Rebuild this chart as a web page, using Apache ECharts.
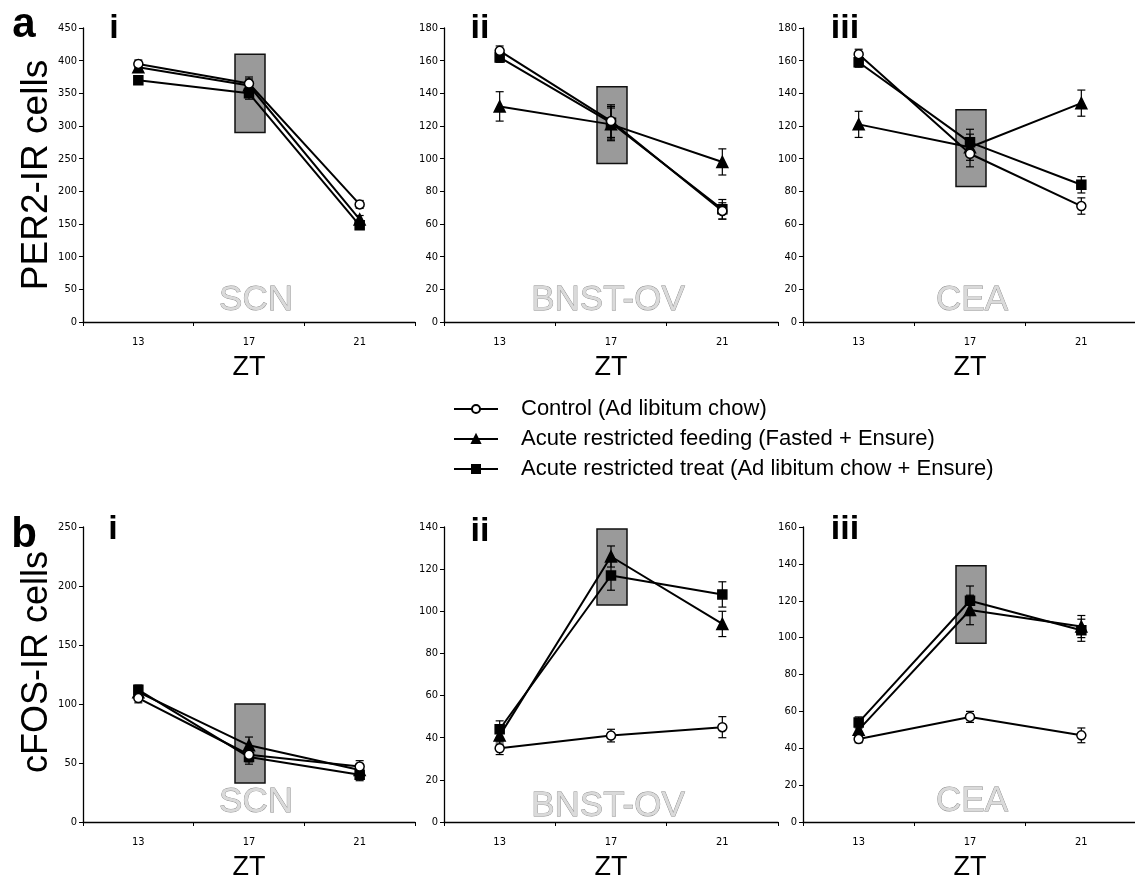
<!DOCTYPE html>
<html>
<head>
<meta charset="utf-8">
<script src="https://cdn.jsdelivr.net/npm/echarts@6/dist/echarts.min.js"></script>
<style>
  html, body { margin: 0; padding: 0; background: #fff; }
  #chart { width: 1135px; height: 880px; }
</style>
</head>
<body>
<div id="chart"></div>
<script>
// x categories (ZT)
var categories = ["13", "17", "21"];
var seriesNames = [
  "Control (Ad libitum chow)",
  "Acute restricted feeding (Fasted + Ensure)",
  "Acute restricted treat (Ad libitum chow + Ensure)"
];

// a: PER2-IR cells
var per2ScnControl = [395, 365, 180];
var per2ScnFeed = [390, 362, 157];
var per2ScnTreat = [370, 350, 148];
var per2ScnErr = [[6, 10, 6], [6, 10, 6], [5, 9, 5]];

var per2BnstControl = [166, 123, 68];
var per2BnstFeed = [132, 121, 98];
var per2BnstTreat = [162, 122, 69];
var per2BnstErr = [[3, 10, 5], [9, 10, 8], [3, 10, 6]];

var per2CeaControl = [164, 103, 71];
var per2CeaFeed = [121, 107, 134];
var per2CeaTreat = [159, 110, 84];
var per2CeaErr = [[3, 8, 5], [8, 8, 8], [3, 8, 5]];

// b: cFOS-IR cells
var cfosScnControl = [105, 57, 47];
var cfosScnFeed = [110, 65, 44];
var cfosScnTreat = [112, 55, 40];
var cfosScnErr = [[4, 6, 5], [4, 7, 5], [4, 6, 5]];

var cfosBnstControl = [35, 41, 45];
var cfosBnstFeed = [41, 126, 94];
var cfosBnstTreat = [44, 117, 108];
var cfosBnstErr = [[3, 3, 5], [4, 5, 6], [4, 7, 6]];

var cfosCeaControl = [45, 57, 47];
var cfosCeaFeed = [50, 115, 106];
var cfosCeaTreat = [54, 120, 104];
var cfosCeaErr = [[2, 3, 4], [3, 8, 6], [3, 8, 6]];

// shaded boxes at ZT17 [low, high]
var per2Boxes = [[290, 410], [97, 144], [83, 130]];
var cfosBoxes = [[33, 100], [103, 139], [97, 139]];

// axis ranges [max, interval]
var per2Axes = [[450, 50], [180, 20], [180, 20]];
var cfosAxes = [[250, 50], [140, 20], [160, 20]];

var regionNames = ["SCN", "BNST-OV", "CEA"];

var panels = [
  { lines: [per2ScnControl, per2ScnFeed, per2ScnTreat], err: per2ScnErr, box: per2Boxes[0], axis: per2Axes[0] },
  { lines: [per2BnstControl, per2BnstFeed, per2BnstTreat], err: per2BnstErr, box: per2Boxes[1], axis: per2Axes[1] },
  { lines: [per2CeaControl, per2CeaFeed, per2CeaTreat], err: per2CeaErr, box: per2Boxes[2], axis: per2Axes[2] },
  { lines: [cfosScnControl, cfosScnFeed, cfosScnTreat], err: cfosScnErr, box: cfosBoxes[0], axis: cfosAxes[0] },
  { lines: [cfosBnstControl, cfosBnstFeed, cfosBnstTreat], err: cfosBnstErr, box: cfosBoxes[1], axis: cfosAxes[1] },
  { lines: [cfosCeaControl, cfosCeaFeed, cfosCeaTreat], err: cfosCeaErr, box: cfosBoxes[2], axis: cfosAxes[2] }
];

var gridLefts = [83, 444, 803];
var gridWidths = [332, 334, 334];
var rowTops = [28, 527];
var rowHeights = [294, 295];

var narrowFont = "'Liberation Sans Narrow', 'Arial Narrow', 'DejaVu Sans Condensed', sans-serif";
var mainFont = "'Liberation Sans', Arial, sans-serif";

var chart = echarts.init(document.getElementById("chart"));

var grids = [], xAxes = [], yAxes = [], series = [];

var symbols = ["circle", "triangle", "rect"];
var symbolSizes = [9, 11, 9];
var fills = ["#fff", "#000", "#000"];

panels.forEach(function (p, i) {
  var col = i % 3, row = Math.floor(i / 3);
  grids.push({
    left: gridLefts[col],
    top: rowTops[row],
    width: gridWidths[col],
    height: rowHeights[row],
    containLabel: false,
    outerBoundsMode: "none"
  });
  xAxes.push({
    type: "category",
    gridIndex: i,
    data: categories,
    boundaryGap: true,
    name: "ZT",
    nameLocation: "middle",
    nameGap: 32,
    nameTextStyle: { fontSize: 27, color: "#000", fontFamily: mainFont },
    axisLine: { lineStyle: { color: "#000", width: 1.3 } },
    axisTick: { show: true, length: 4, lineStyle: { color: "#000" } },
    axisLabel: { fontSize: 11, color: "#000", margin: 15, fontFamily: narrowFont }
  });
  yAxes.push({
    type: "value",
    gridIndex: i,
    min: 0,
    max: p.axis[0],
    interval: p.axis[1],
    axisLine: { show: true, lineStyle: { color: "#000", width: 1.3 } },
    axisTick: { show: true, length: 4, lineStyle: { color: "#000" } },
    axisLabel: { fontSize: 11, color: "#000", margin: 6, fontFamily: narrowFont },
    splitLine: { show: false }
  });

  // shaded box at ZT17
  series.push({
    type: "custom",
    xAxisIndex: i,
    yAxisIndex: i,
    z: 1,
    silent: true,
    data: [[1, p.box[0], p.box[1]]],
    encode: { x: 0, y: [1, 2] },
    renderItem: function (params, api) {
      var lo = api.coord([api.value(0), api.value(1)]);
      var hi = api.coord([api.value(0), api.value(2)]);
      var w = 30;
      return {
        type: "rect",
        shape: { x: lo[0] - w / 2 + 1, y: hi[1], width: w, height: lo[1] - hi[1] },
        style: { fill: "#9a9a9a", stroke: "#111", lineWidth: 1.5 }
      };
    }
  });

  p.lines.forEach(function (vals, k) {
    // error bars
    series.push({
      type: "custom",
      xAxisIndex: i,
      yAxisIndex: i,
      z: 3,
      silent: true,
      data: vals.map(function (v, j) { return [j, v - p.err[k][j], v + p.err[k][j]]; }),
      encode: { x: 0, y: [1, 2] },
      renderItem: function (params, api) {
        var lo = api.coord([api.value(0), api.value(1)]);
        var hi = api.coord([api.value(0), api.value(2)]);
        var c = 4;
        var st = { stroke: "#000", lineWidth: 1.2 };
        return {
          type: "group",
          children: [
            { type: "line", shape: { x1: lo[0], y1: lo[1], x2: hi[0], y2: hi[1] }, style: st },
            { type: "line", shape: { x1: lo[0] - c, y1: lo[1], x2: lo[0] + c, y2: lo[1] }, style: st },
            { type: "line", shape: { x1: hi[0] - c, y1: hi[1], x2: hi[0] + c, y2: hi[1] }, style: st }
          ]
        };
      }
    });
    series.push({
      name: seriesNames[k],
      type: "line",
      xAxisIndex: i,
      yAxisIndex: i,
      z: 4 + (2 - k),
      data: vals,
      symbol: symbols[k],
      symbolSize: symbolSizes[k],
      showAllSymbol: true,
      itemStyle: { color: fills[k], borderColor: "#000", borderWidth: 1.5 },
      lineStyle: { color: "#000", width: 2 },
      emphasis: { disabled: true }
    });
  });
});

// text annotations
function txt(text, x, y, size, opts) {
  var s = Object.assign({
    text: text, x: x, y: y, fontSize: size, fontFamily: mainFont,
    fill: "#000", align: "center", verticalAlign: "middle"
  }, opts || {});
  return { type: "text", z: 10, style: s };
}

var regionCenters = [256, 608, 972];
var regionY = [300, 300, 300, 802, 806, 801];
var texts = [];
panels.forEach(function (p, i) {
  var col = i % 3;
  texts.push(txt(regionNames[col], regionCenters[col], regionY[i], 35, {
    fill: "#dadada", stroke: "#8a8a8a", lineWidth: 0.8
  }));
});
texts.push(txt("i", 114, 29, 34, { fontWeight: "bold" }));
texts.push(txt("ii", 480, 29, 34, { fontWeight: "bold" }));
texts.push(txt("iii", 845, 29, 34, { fontWeight: "bold" }));
texts.push(txt("i", 113, 530, 34, { fontWeight: "bold" }));
texts.push(txt("ii", 480, 532, 34, { fontWeight: "bold" }));
texts.push(txt("iii", 845, 530, 34, { fontWeight: "bold" }));
texts.push(txt("a", 24, 25, 42, { fontWeight: "bold" }));
texts.push(txt("b", 24, 535, 42, { fontWeight: "bold" }));
texts.push({ type: "text", z: 10, x: 37, y: 175, rotation: Math.PI / 2,
  style: { text: "PER2-IR cells", fontSize: 37, fontFamily: mainFont, fill: "#000", align: "center", verticalAlign: "middle" } });
texts.push({ type: "text", z: 10, x: 37, y: 662, rotation: Math.PI / 2,
  style: { text: "cFOS-IR cells", fontSize: 36, fontFamily: mainFont, fill: "#000", align: "center", verticalAlign: "middle" } });

var option = {
  backgroundColor: "#fff",
  animation: false,
  grid: grids,
  xAxis: xAxes,
  yAxis: yAxes,
  legend: {
    data: seriesNames,
    orient: "vertical",
    left: 448,
    top: 393,
    itemWidth: 44,
    itemHeight: 10,
    itemGap: 8,
    selectedMode: false,
    textStyle: { fontSize: 22, color: "#000", fontFamily: mainFont, padding: [0, 0, 0, 18] }
  },
  graphic: texts,
  series: series
};

chart.setOption(option);
</script>
</body>
</html>
